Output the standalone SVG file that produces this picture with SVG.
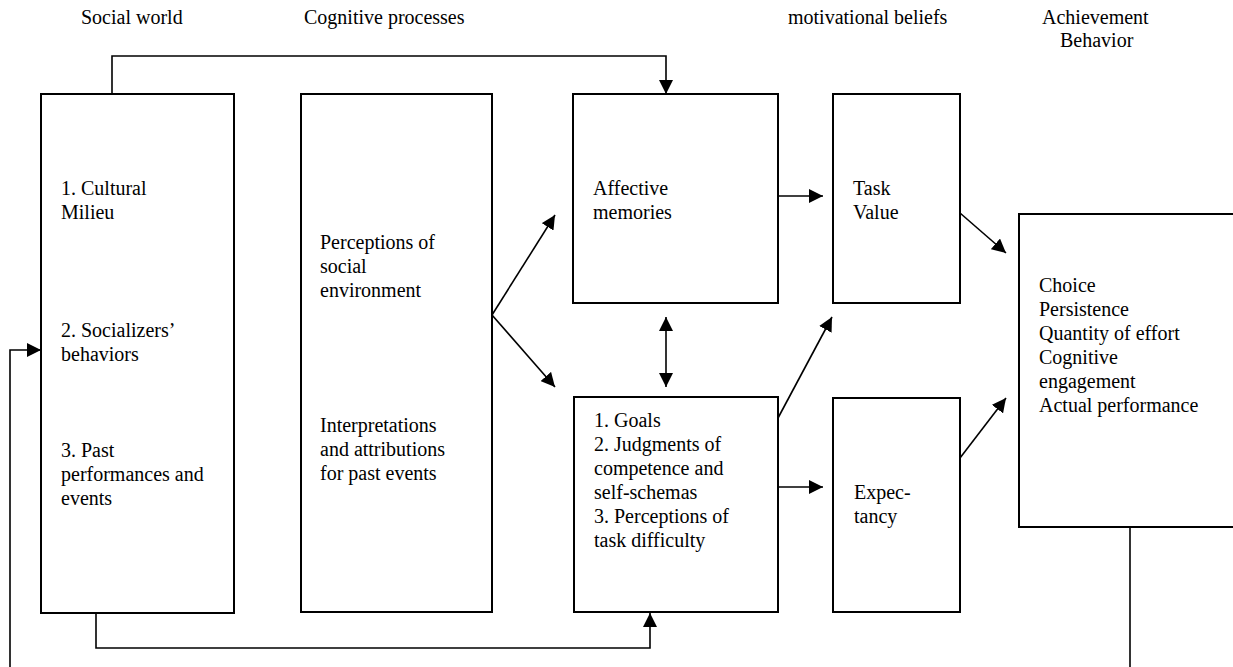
<svg xmlns="http://www.w3.org/2000/svg" width="1233" height="667" viewBox="0 0 1233 667">
<style>
.b{fill:#fff;stroke:#000;stroke-width:2}
.c{fill:none;stroke:#000;stroke-width:1.6}
text{font-family:"Liberation Serif","Times New Roman",serif;font-size:20px;fill:#000}
</style>
<defs>
<marker id="a" viewBox="0 0 14 14" refX="14" refY="7" markerWidth="14" markerHeight="14" markerUnits="userSpaceOnUse" orient="auto-start-reverse"><path d="M0,0L14,7L0,14z" fill="#000"/></marker>
</defs>
<rect width="1233" height="667" fill="#fff"/>
<g id="headings">
<text x="81" y="24">Social world</text>
<text x="304" y="24">Cognitive processes</text>
<text x="788" y="24">motivational beliefs</text>
<text x="1042" y="24">Achievement</text>
<text x="1060" y="47">Behavior</text>
</g>
<g id="connectors">
<polyline class="c" points="112,94 112,56 666,56 666,94" marker-end="url(#a)"/>
<polyline class="c" points="96,613 96,648 650,648 650,613" marker-end="url(#a)"/>
<polyline class="c" points="1130,527 1130,667"/>
<polyline class="c" points="10,667 10,350 41,350" marker-end="url(#a)"/>
<line class="c" x1="492" y1="315" x2="555" y2="215" marker-end="url(#a)"/>
<line class="c" x1="492" y1="315" x2="555" y2="387" marker-end="url(#a)"/>
<line class="c" x1="778" y1="196" x2="823" y2="196" marker-end="url(#a)"/>
<line class="c" x1="666" y1="317" x2="666" y2="387" marker-start="url(#a)" marker-end="url(#a)"/>
<line class="c" x1="778" y1="418" x2="832" y2="317" marker-end="url(#a)"/>
<line class="c" x1="778" y1="487" x2="823" y2="487" marker-end="url(#a)"/>
<line class="c" x1="960" y1="213" x2="1006" y2="253" marker-end="url(#a)"/>
<line class="c" x1="960" y1="458" x2="1006" y2="398" marker-end="url(#a)"/>
</g>
<g id="social">
<rect class="b" x="41" y="94" width="193" height="519"/>
<text x="61" y="195">1.  Cultural</text>
<text x="61" y="219">Milieu</text>
<text x="61" y="337">2. Socializers’</text>
<text x="61" y="361">behaviors</text>
<text x="61" y="457">3. Past</text>
<text x="61" y="481">performances and</text>
<text x="61" y="505">events</text>
</g>
<g id="cognitive">
<rect class="b" x="301" y="94" width="191" height="518"/>
<text x="320" y="249">Perceptions of</text>
<text x="320" y="273">social</text>
<text x="320" y="297">environment</text>
<text x="320" y="432">Interpretations</text>
<text x="320" y="456">and attributions</text>
<text x="320" y="480">for past events</text>
</g>
<g id="affective">
<rect class="b" x="573" y="94" width="205" height="209"/>
<text x="593" y="195">Affective</text>
<text x="593" y="219">memories</text>
</g>
<g id="taskvalue">
<rect class="b" x="833" y="94" width="127" height="209"/>
<text x="853" y="195">Task</text>
<text x="853" y="219">Value</text>
</g>
<g id="goals">
<rect class="b" x="574" y="397" width="204" height="215"/>
<text x="594" y="427">1. Goals</text>
<text x="594" y="451">2. Judgments of</text>
<text x="594" y="475">competence and</text>
<text x="594" y="499">self-schemas</text>
<text x="594" y="523">3. Perceptions of</text>
<text x="594" y="547">task difficulty</text>
</g>
<g id="expectancy">
<rect class="b" x="833" y="398" width="127" height="214"/>
<text x="854" y="499">Expec-</text>
<text x="854" y="523">tancy</text>
</g>
<g id="behavior">
<rect class="b" x="1019" y="214" width="230" height="313"/>
<text x="1039" y="292">Choice</text>
<text x="1039" y="316">Persistence</text>
<text x="1039" y="340">Quantity of effort</text>
<text x="1039" y="364">Cognitive</text>
<text x="1039" y="388">engagement</text>
<text x="1039" y="412">Actual performance</text>
</g>
</svg>
